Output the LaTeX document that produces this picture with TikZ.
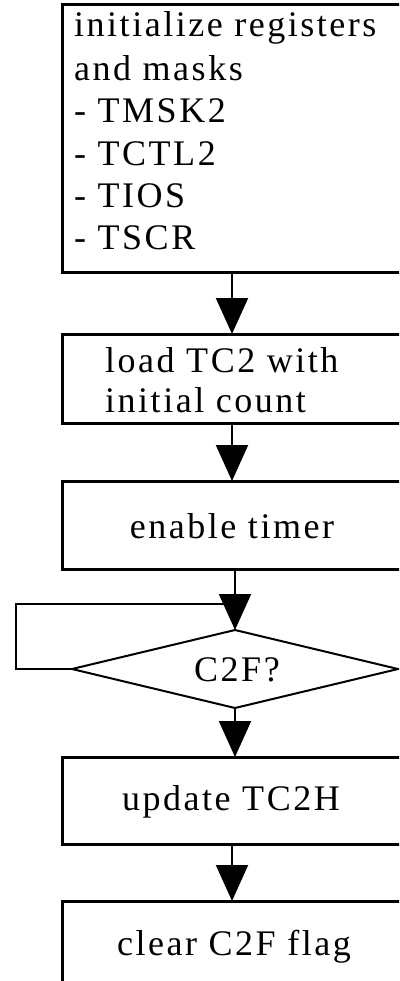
\documentclass[tikz,border=0pt]{standalone}
\usepackage{fontspec}
\setmainfont{Liberation Serif}[LetterSpace=7]
\usetikzlibrary{arrows.meta,shapes.geometric}
\begin{document}
\begin{tikzpicture}[x=1pt,y=-1pt,
  box/.style={draw,line width=3pt,rectangle,outer sep=0pt,inner sep=0pt,
    minimum width=340pt,anchor=north west},
  dia/.style={draw,line width=2pt,diamond,outer sep=0pt,inner sep=0pt,
    minimum width=326pt,minimum height=78pt},
  txt/.style={inner sep=0pt,font=\fontsize{36}{42}\selectfont},
  lt/.style={txt,anchor=base west},
  ct/.style={txt,anchor=base},
  flow/.style={line width=2pt,-{Triangle[width=32pt,length=36pt]}},
  link/.style={line width=2pt}
]
\useasboundingbox (0,0) rectangle (399,981);
\clip (0,0) rectangle (399,981);
% boxes
\node[box,minimum height=268pt] (b1) at (62,5) {};
\node[box,minimum height=89pt] (b2) at (62,334) {};
\node[box,minimum height=88pt] (b3) at (62,481) {};
\node[dia] (d) at (235,669) {};
\node[box,minimum height=87pt] (b4) at (62,757) {};
\node[box,minimum height=120pt] (b5) at (62,901) {};
% texts
\node[lt] (t1a) at (74,37) {initialize registers};
\node[lt] (t1b) at (74,81) {and masks};
\node[lt] (t1c) at (74,123) {- TMSK2};
\node[lt] (t1d) at (74,166) {- TCTL2};
\node[lt] (t1e) at (74,208) {- TIOS};
\node[lt] (t1f) at (74,250) {- TSCR};
\node[lt] (t2a) at (105,372) {load TC2 with};
\node[lt] (t2b) at (105,412) {initial count};
\node[ct] (t3) at (232,538) {enable timer};
\node[ct] (td) at (237,681) {C2F?};
\node[ct] (t4) at (231,810) {update TC2H};
\node[ct] (t5) at (234,955) {clear C2F flag};
% connectors
\coordinate (join) at (235,604);
\draw[flow] (b1.south) -- (b2.north);
\draw[flow] (b2.south) -- (b3.north);
\draw[flow] (d.north |- b3.south) -- (d.north);
\draw[link] (d.west) -- ++(-56,0) |- (join);
\draw[flow] (d.south) -- (d.south |- b4.north);
\draw[flow] (b4.south) -- (b5.north);
\end{tikzpicture}
\end{document}
